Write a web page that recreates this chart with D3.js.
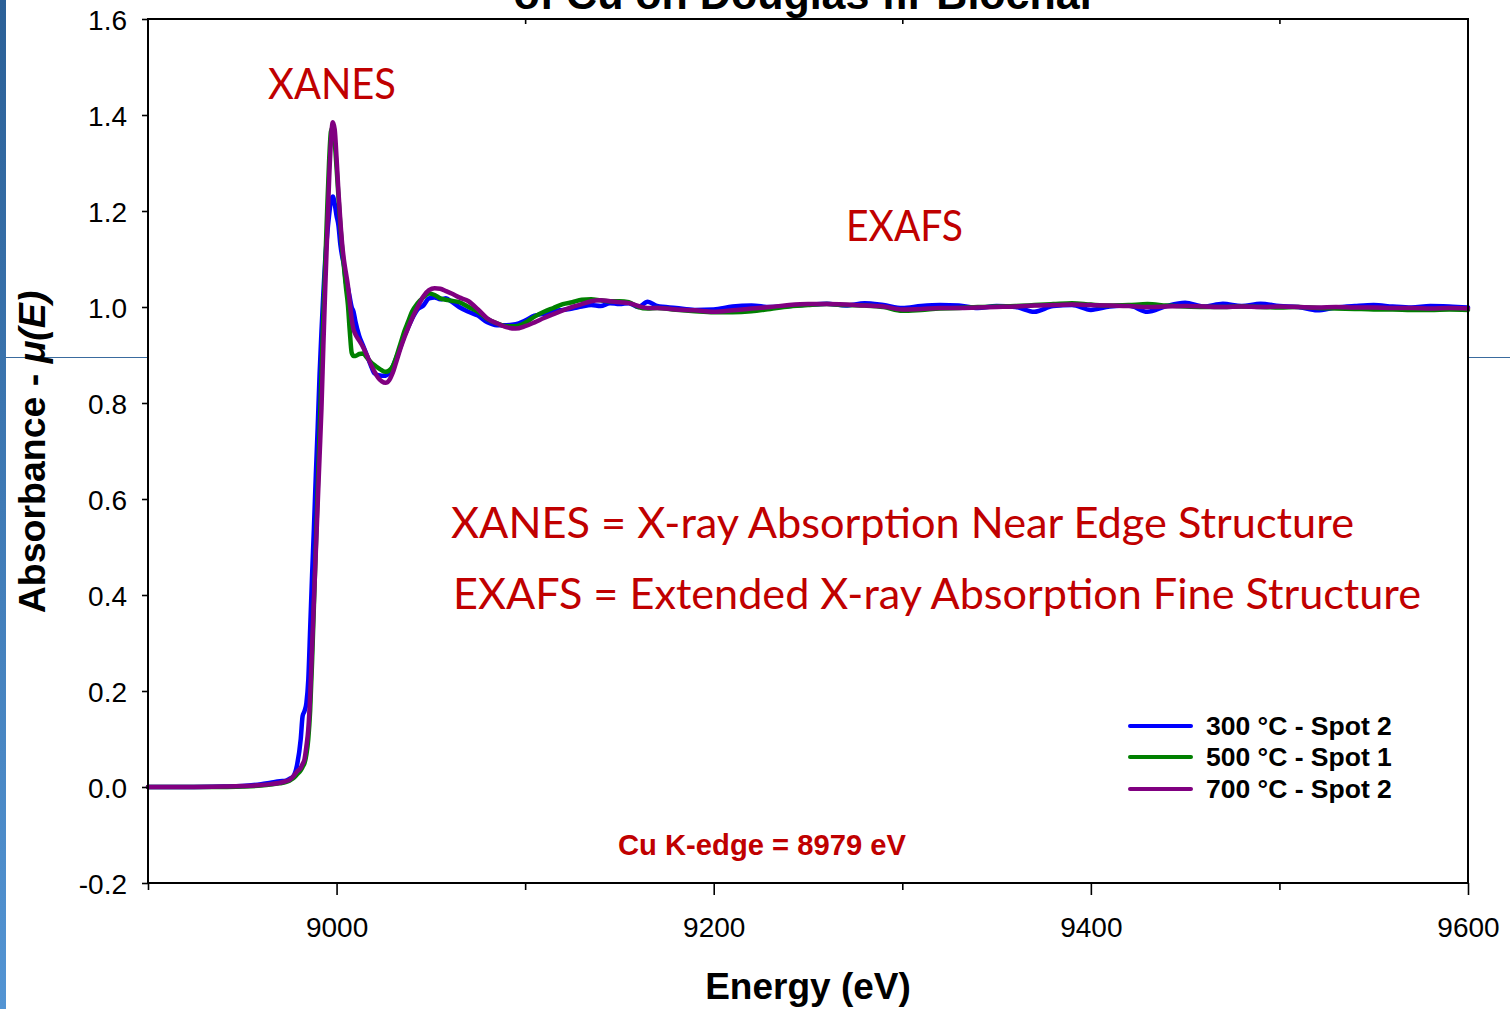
<!DOCTYPE html>
<html>
<head>
<meta charset="utf-8">
<script src="https://cdn.jsdelivr.net/npm/d3@7"></script>
<style>
  html, body { margin: 0; padding: 0; background: #fff; }
  svg { display: block; }
</style>
</head>
<body>
<svg id="chart" width="1510" height="1009"></svg>
<script>
// ---------------- DATA ----------------
const seriesNames = ["300 °C - Spot 2", "500 °C - Spot 1", "700 °C - Spot 2"];
const seriesColors = ["#0000FF", "#008000", "#800080"];

const energy = [
  // pre-edge + edge
  8900, 8920, 8940, 8950, 8960, 8965, 8970, 8973, 8975, 8977, 8979, 8981, 8982, 8983, 8984, 8985,
  8986, 8987, 8988, 8989, 8990, 8991, 8992, 8993, 8994, 8995, 8996, 8997, 8998, 8999, 9000, 9001,
  9002, 9003, 9004, 9005, 9006, 9007, 9008, 9009, 9010,
  // first minimum
  9012, 9014, 9016, 9018, 9020, 9022, 9024, 9026, 9028, 9030, 9032, 9034, 9036, 9038, 9040,
  // first oscillations
  9043, 9046, 9049, 9052, 9055, 9058, 9061, 9065, 9070, 9075, 9080, 9085, 9090, 9095, 9100, 9105,
  9110, 9115, 9120, 9125, 9130, 9135, 9140, 9145, 9150, 9155, 9160, 9165, 9170,
  // tail
  9180, 9190, 9200, 9210, 9220, 9230, 9240, 9250, 9260, 9270, 9280, 9290, 9300, 9310, 9320, 9330,
  9340, 9350, 9360, 9370, 9380, 9390, 9400, 9410, 9420, 9430, 9440, 9450, 9460, 9470, 9480, 9490,
  9500, 9510, 9520, 9530, 9540, 9550, 9560, 9570, 9580, 9590, 9600
];

const mu300 = [
  0.000, 0.000, 0.001, 0.002, 0.006, 0.009, 0.012, 0.013, 0.017, 0.022, 0.045, 0.100, 0.148, 0.158, 0.175, 0.223,
  0.330, 0.440, 0.540, 0.650, 0.750, 0.860, 0.950, 1.030, 1.100, 1.150, 1.190, 1.220, 1.230, 1.215, 1.190, 1.170,
  1.130, 1.105, 1.085, 1.050, 1.040, 1.020, 1.000, 0.990, 0.970,
  0.940, 0.920, 0.900, 0.880, 0.862, 0.858, 0.857, 0.857, 0.863, 0.878, 0.897, 0.918, 0.940, 0.958, 0.975,
  0.995, 1.003, 1.018, 1.020, 1.016, 1.018, 1.011, 1.000, 0.990, 0.982, 0.968, 0.962, 0.962, 0.964, 0.972, 0.982,
  0.986, 0.991, 0.994, 0.997, 1.001, 1.004, 1.002, 1.008, 1.006, 1.008, 1.000, 1.011, 1.002,
  0.998, 0.994, 0.995, 1.001, 1.003, 1.000, 1.002, 1.005, 1.007, 1.003, 1.008, 1.004, 0.998, 1.002, 1.004, 1.003,
  0.998, 1.002, 1.000, 0.990, 1.002, 1.004, 0.994, 1.001, 1.003, 0.990, 1.002, 1.009, 1.001, 1.007, 1.002, 1.007,
  1.002, 1.000, 0.993, 0.999, 1.002, 1.004, 1.001, 0.999, 1.002, 1.001, 0.999
];

const mu500 = [
  0.000, 0.000, 0.000, 0.001, 0.003, 0.005, 0.008, 0.010, 0.013, 0.018, 0.026, 0.035, 0.042, 0.050, 0.068, 0.100,
  0.160, 0.260, 0.380, 0.500, 0.620, 0.740, 0.860, 0.980, 1.090, 1.200, 1.300, 1.365, 1.375, 1.345, 1.290, 1.230,
  1.170, 1.120, 1.080, 1.040, 1.005, 0.950, 0.905, 0.898, 0.898,
  0.902, 0.903, 0.895, 0.886, 0.879, 0.873, 0.868, 0.865, 0.868, 0.878, 0.900, 0.925, 0.950, 0.970, 0.990,
  1.008, 1.020, 1.028, 1.025, 1.018, 1.015, 1.013, 1.010, 1.000, 0.990, 0.975, 0.966, 0.960, 0.960, 0.967, 0.980,
  0.990, 0.998, 1.006, 1.010, 1.015, 1.016, 1.014, 1.012, 1.012, 1.010, 1.000, 0.997, 0.998,
  0.994, 0.991, 0.989, 0.989, 0.991, 0.996, 1.001, 1.004, 1.006, 1.004, 1.003, 1.000, 0.992, 0.994, 0.997, 0.998,
  1.000, 1.001, 1.002, 1.004, 1.006, 1.008, 1.005, 1.003, 1.004, 1.006, 1.003, 1.001, 1.000, 1.000, 1.001, 1.000,
  0.999, 1.000, 0.998, 0.997, 0.996, 0.995, 0.995, 0.994, 0.994, 0.995, 0.994
];

const mu700 = [
  0.000, 0.000, 0.001, 0.002, 0.004, 0.006, 0.009, 0.012, 0.015, 0.022, 0.032, 0.040, 0.048, 0.058, 0.085, 0.120,
  0.190, 0.290, 0.390, 0.490, 0.590, 0.690, 0.790, 0.920, 1.040, 1.150, 1.260, 1.345, 1.385, 1.370, 1.310, 1.240,
  1.180, 1.130, 1.095, 1.070, 1.045, 1.010, 0.975, 0.953, 0.943,
  0.930, 0.917, 0.900, 0.882, 0.866, 0.853, 0.845, 0.842, 0.848, 0.865, 0.890, 0.915, 0.937, 0.957, 0.976,
  1.000, 1.022, 1.035, 1.039, 1.038, 1.033, 1.028, 1.020, 1.012, 0.995, 0.976, 0.966, 0.958, 0.955, 0.960, 0.968,
  0.977, 0.985, 0.993, 1.000, 1.006, 1.012, 1.014, 1.012, 1.010, 1.008, 1.002, 0.998, 0.998,
  0.995, 0.993, 0.990, 0.993, 0.997, 1.000, 1.004, 1.006, 1.006, 1.005, 1.003, 1.001, 0.995, 0.996, 0.998, 0.998,
  0.999, 1.000, 1.001, 1.003, 1.004, 1.005, 1.004, 1.003, 1.002, 1.000, 1.001, 1.002, 1.001, 1.000, 1.001, 1.000,
  1.001, 1.000, 0.999, 1.000, 0.999, 0.999, 0.998, 0.998, 0.997, 0.998, 0.997
];

const xMajorTicks = [9000, 9200, 9400, 9600];
const xMinorTicks = [8900, 9100, 9300, 9500];
const yTicks = [-0.2, 0.0, 0.2, 0.4, 0.6, 0.8, 1.0, 1.2, 1.4, 1.6];

const titleText = "of Cu on Douglas fir Biochar";
const xLabel = "Energy (eV)";
const annXanes = "XANES";
const annExafs = "EXAFS";
const defXanes = "XANES = X-ray Absorption Near Edge Structure";
const defExafs = "EXAFS = Extended X-ray Absorption Fine Structure";
const edgeNote = "Cu K-edge = 8979 eV";

// ---------------- CHART ----------------
const svg = d3.select("#chart");
const W = 1510, H = 1009;
const plot = { left: 148, right: 1468, top: 19, bottom: 883 };

const x = d3.scaleLinear().domain([8900, 9600]).range([plot.left, plot.right]);
const y = d3.scaleLinear().domain([-0.2, 1.6]).range([plot.bottom, plot.top]);

svg.append("rect").attr("width", W).attr("height", H).attr("fill", "#fff");

// slide decorations
const defs = svg.append("defs");
const grad = defs.append("linearGradient").attr("id", "barGrad")
  .attr("x1", 0).attr("y1", 0).attr("x2", 0).attr("y2", 1);
grad.append("stop").attr("offset", "0%").attr("stop-color", "#2B6097");
grad.append("stop").attr("offset", "100%").attr("stop-color", "#5394D3");
svg.append("rect").attr("x", 0).attr("y", 0).attr("width", 6).attr("height", H).attr("fill", "url(#barGrad)");
svg.append("line").attr("x1", 6).attr("x2", plot.left).attr("y1", 357.5).attr("y2", 357.5)
  .attr("stroke", "#3A6B9E").attr("stroke-width", 1);
svg.append("line").attr("x1", plot.right).attr("x2", W).attr("y1", 357.5).attr("y2", 357.5)
  .attr("stroke", "#3A6B9E").attr("stroke-width", 1);

// title (cut off at the top edge, as in the source slide)
svg.append("text").attr("x", 805).attr("y", 9)
  .attr("text-anchor", "middle")
  .attr("font-family", "'Liberation Sans', Arial, sans-serif")
  .attr("font-weight", "bold").attr("font-size", 43).attr("fill", "#000")
  .text(titleText);

const g = svg.append("g");

// lines
const seriesData = [mu300, mu500, mu700];
const line = d3.line()
  .x((d, i) => x(energy[i]))
  .y(d => y(d))
  .curve(d3.curveMonotoneX);

seriesData.forEach((vals, k) => {
  g.append("path").datum(vals)
    .attr("fill", "none")
    .attr("stroke", seriesColors[k])
    .attr("stroke-width", 4.5)
    .attr("stroke-linejoin", "round")
    .attr("stroke-linecap", "round")
    .attr("d", line);
});

// axes
const tickFont = "'Liberation Sans', Arial, sans-serif";
const fmtY = d => d3.format(".1f")(d).replace("\u2212", "-");

const yAxis = g.append("g").attr("transform", `translate(${plot.left},0)`)
  .call(d3.axisLeft(y).tickValues(yTicks).tickSize(6).tickPadding(15)
    .tickFormat(fmtY).tickSizeOuter(0));
const xAxis = g.append("g").attr("transform", `translate(0,${plot.bottom})`)
  .call(d3.axisBottom(x).tickValues(xMajorTicks).tickSize(12).tickPadding(22)
    .tickFormat(d3.format("d")).tickSizeOuter(0));
const xMinor = g.append("g").attr("transform", `translate(0,${plot.bottom})`)
  .call(d3.axisBottom(x).tickValues(xMinorTicks).tickSize(7).tickFormat("").tickSizeOuter(0));
const xTopMinor = g.append("g").attr("transform", `translate(0,${plot.top})`)
  .call(d3.axisTop(x).tickValues(xMinorTicks.slice(1)).tickSize(-5).tickFormat("").tickSizeOuter(0));

[yAxis, xAxis, xMinor, xTopMinor].forEach(a => {
  a.select(".domain").remove();
  a.selectAll(".tick line").attr("stroke", "#000").attr("stroke-width", 1.6);
  a.selectAll("text").attr("font-family", tickFont).attr("font-size", 28).attr("fill", "#000");
});
yAxis.selectAll("text").attr("dy", "0.36em");

// frame
g.append("rect").attr("x", plot.left).attr("y", plot.top)
  .attr("width", plot.right - plot.left).attr("height", plot.bottom - plot.top)
  .attr("fill", "none").attr("stroke", "#000").attr("stroke-width", 2);

// axis titles
svg.append("text").attr("x", 808).attr("y", 999).attr("text-anchor", "middle")
  .attr("font-family", tickFont).attr("font-weight", "bold").attr("font-size", 37).attr("fill", "#000")
  .text(xLabel);

const yl = svg.append("text").attr("transform", "translate(45,452) rotate(-90)")
  .attr("text-anchor", "middle")
  .attr("font-family", tickFont).attr("font-weight", "bold").attr("font-size", 37.5).attr("fill", "#000");
yl.append("tspan").text("Absorbance - ");
yl.append("tspan").attr("font-style", "italic").text("μ(E)");

// annotations
const red = "#C00000";
const annFont = "Lato, 'Open Sans', sans-serif";
function ann(txt, x0, yb, w, size) {
  svg.append("text").attr("x", x0).attr("y", yb)
    .attr("font-family", annFont).attr("font-size", size).attr("fill", red)
    .attr("textLength", w).attr("lengthAdjust", "spacingAndGlyphs")
    .text(txt);
}
ann(annXanes, 268, 99, 128, 42);
ann(annExafs, 846, 241, 117, 42);
ann(defXanes, 451, 538, 903, 42);
ann(defExafs, 453, 609, 968, 42);

svg.append("text").attr("x", 762).attr("y", 855).attr("text-anchor", "middle")
  .attr("font-family", tickFont).attr("font-weight", "bold").attr("font-size", 29.2).attr("fill", red)
  .text(edgeNote);

// legend
const legY = [726, 757, 789];
seriesNames.forEach((name, k) => {
  svg.append("line").attr("x1", 1130).attr("x2", 1191).attr("y1", legY[k]).attr("y2", legY[k])
    .attr("stroke", seriesColors[k]).attr("stroke-width", 4).attr("stroke-linecap", "round");
  svg.append("text").attr("x", 1206).attr("y", legY[k] + 9)
    .attr("font-family", tickFont).attr("font-weight", "bold").attr("font-size", 26.5).attr("fill", "#000")
    .text(name);
});
</script>
</body>
</html>
